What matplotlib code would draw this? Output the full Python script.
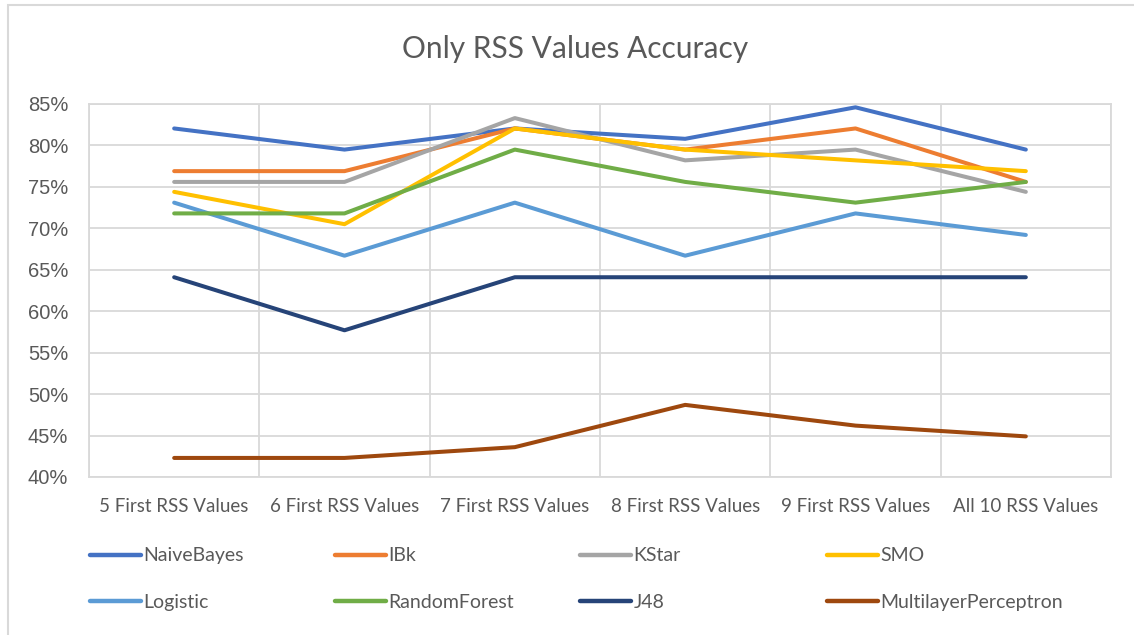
import matplotlib
matplotlib.use("Agg")
import matplotlib.pyplot as plt
from matplotlib.patches import Rectangle
from matplotlib.ticker import FuncFormatter, MultipleLocator, FixedLocator

# categories and series values (accuracy in %)
categories = ["5 First RSS Values", "6 First RSS Values", "7 First RSS Values",
              "8 First RSS Values", "9 First RSS Values", "All 10 RSS Values"]
naive_bayes = [82.05, 79.5, 82.05, 80.8, 84.6, 79.5]
ibk = [76.9, 76.9, 82.05, 79.5, 82.05, 75.6]
kstar = [75.6, 75.6, 83.3, 78.2, 79.5, 74.4]
smo = [74.4, 70.5, 82.05, 79.5, 78.2, 76.9]
logistic = [73.1, 66.7, 73.1, 66.7, 71.8, 69.2]
random_forest = [71.8, 71.8, 79.5, 75.6, 73.1, 75.6]
j48 = [64.1, 57.7, 64.1, 64.1, 64.1, 64.1]
mlp = [42.3, 42.3, 43.6, 48.7, 46.2, 44.9]

series = [("NaiveBayes", naive_bayes, "#4472C4"),
          ("IBk", ibk, "#ED7D31"),
          ("KStar", kstar, "#A5A5A5"),
          ("SMO", smo, "#FFC000"),
          ("Logistic", logistic, "#5B9BD5"),
          ("RandomForest", random_forest, "#70AD47"),
          ("J48", j48, "#264478"),
          ("MultilayerPerceptron", mlp, "#9E480E")]

txt = "#595959"
grid = "#D9D9D9"
calibri_like = "Lato"

fig = plt.figure(figsize=(11.34, 6.35), dpi=100)
ax = fig.add_axes([89 / 1134, 1 - 477 / 635, (1111 - 89) / 1134, (477 - 104) / 635])

# outer chart border (only top and left visible in the crop)
fig.patches.append(Rectangle((8 / 1134, -0.05), 1.1, 1 - 5 / 635 + 0.05,
                             transform=fig.transFigure, fill=False,
                             edgecolor=grid, linewidth=1.5))

x = list(range(len(categories)))
lines = []
for name, vals, col in series:
    ln, = ax.plot(x, vals, color=col, lw=2.9, solid_capstyle="round",
                  solid_joinstyle="round", label=name, zorder=3)
    lines.append(ln)

ax.set_xlim(-0.5, len(categories) - 0.5)
ax.set_ylim(40, 85)
ax.yaxis.set_major_locator(MultipleLocator(5))
ax.yaxis.set_major_formatter(FuncFormatter(lambda v, p: "%d%%" % v))
ax.set_xticks(x)
ax.set_xticklabels(categories, fontsize=13.5, color=txt, family=calibri_like)
ax.xaxis.set_minor_locator(FixedLocator([i - 0.5 for i in range(len(categories) + 1)]))
ax.tick_params(axis="y", length=0, pad=15, labelsize=14.5, labelcolor=txt)
ax.tick_params(axis="x", which="both", length=0, pad=15)
for lab in ax.get_yticklabels():
    lab.set_family("Liberation Sans")

ax.grid(axis="y", which="major", color=grid, lw=1.3)
ax.grid(axis="x", which="minor", color=grid, lw=1.3)
for s in ax.spines.values():
    s.set_color(grid)
    s.set_linewidth(1.3)

fig.text(575 / 1134, 1 - 49 / 635, "Only RSS Values Accuracy", ha="center", va="center",
         fontsize=21.5, color=txt, family=calibri_like)

# legend: one per column, two rows each
col_x = [90, 335, 580, 827]
for c in range(4):
    leg = fig.legend(handles=[lines[c], lines[c + 4]], loc="center left",
                     bbox_to_anchor=(col_x[c] / 1134, 1 - 579 / 635),
                     frameon=False, borderpad=0, borderaxespad=0,
                     handlelength=2.6, handletextpad=0.15, labelspacing=1.5,
                     prop={"family": calibri_like, "size": 14})
    for t in leg.get_texts():
        t.set_color(txt)
    for h in leg.legend_handles:
        h.set_linewidth(3.2)

fig.savefig("out.png", dpi=100, facecolor="white")
